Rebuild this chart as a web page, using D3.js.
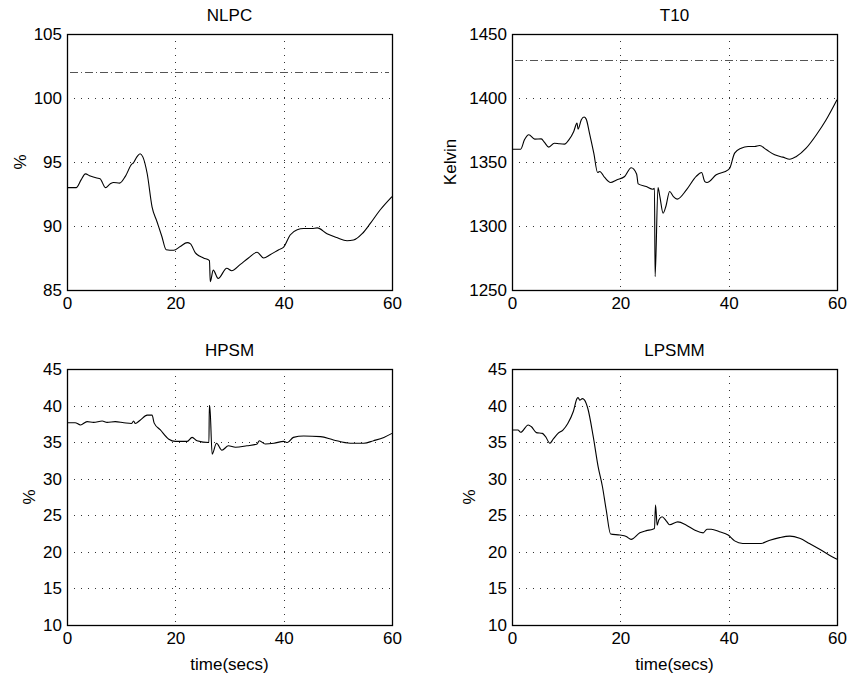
<!DOCTYPE html>
<html>
<head>
<meta charset="utf-8">
<script src="https://cdn.jsdelivr.net/npm/d3@7"></script>
<style>
  html, body { margin: 0; padding: 0; background: #fff; }
  svg text { font-family: "Liberation Sans", Arial, Helvetica, sans-serif; fill: #000; }
</style>
</head>
<body>
<svg id="chart" width="850" height="675"></svg>
<script>
// ---- data ----
const xTicks = [0, 20, 40, 60];

const titles = ["NLPC", "T10", "HPSM", "LPSMM"];
const yLabels = ["%", "Kelvin", "%", "%"];

const nlpcDomain = [85, 105];
const nlpcTicks = [85, 90, 95, 100, 105];
const nlpcLimit = 102;
const nlpc = [[0,93.0],[1.7,93.0],[2.6,93.6],[3.4,94.07],[4.3,93.9],[5.5,93.75],[6.1,93.7],[7.1,93.0],[8,93.3],[8.6,93.4],[9.7,93.35],[10.8,93.9],[12,94.85],[12.2,94.9],[12.9,95.4],[13.5,95.65],[14,95.4],[14.8,94.1],[15.7,91.5],[16.6,90.35],[17.5,89.2],[18.3,88.15],[19.7,88.1],[20.9,88.4],[22.2,88.7],[22.8,88.6],[23.7,87.9],[25.2,87.5],[26.3,87.3],[26.45,85.65],[27.0,86.55],[27.9,85.9],[29.5,86.7],[30.4,86.5],[32,87.0],[33.5,87.5],[35.1,87.95],[36.3,87.5],[37.5,87.75],[39.1,88.15],[40,88.35],[41.2,89.3],[42.5,89.7],[43.7,89.8],[45.2,89.8],[46.2,89.85],[48,89.4],[49.8,89.1],[51.7,88.85],[52.9,88.9],[54.5,89.4],[56,90.2],[57.8,91.25],[60,92.3]];

const t10Domain = [1250, 1450];
const t10Ticks = [1250, 1300, 1350, 1400, 1450];
const t10Limit = 1430;
const t10 = [[0,1360],[1.6,1360],[2.3,1367.3],[3.1,1371.3],[4.2,1367.9],[5.4,1368.1],[6,1365.3],[6.8,1361.6],[7.8,1364.7],[8.8,1364.2],[9.7,1364],[10.5,1367.3],[11.4,1373.9],[12,1380.4],[12.2,1375.7],[12.8,1383],[13.3,1385.1],[13.7,1383.5],[14.3,1372.6],[15.1,1356.9],[15.8,1341.8],[16.2,1342.6],[17.1,1337.9],[18.2,1334],[19.3,1336],[20.8,1338.7],[22,1345.5],[23,1340.7],[23.3,1332.9],[24.8,1330.8],[26,1328.7],[26.3,1329.5],[26.42,1260.5],[26.95,1330],[27.3,1323],[27.9,1310],[28.4,1315.2],[29.1,1327],[29.8,1323],[30.5,1321],[32.2,1328.2],[34,1338.7],[35,1341.8],[35.6,1334.7],[36,1334],[37.7,1340],[39.9,1343.9],[40.2,1345.2],[41.1,1356.9],[42.3,1360.8],[43.6,1362.1],[44.8,1362.1],[45.7,1362.9],[47,1359.5],[48.5,1355.6],[50,1353.8],[51.3,1352.2],[52.5,1354.3],[54.3,1360.8],[56.2,1371.3],[58,1383],[60,1398.6]];

const lowDomain = [10, 45];
const lowTicks = [10, 15, 20, 25, 30, 35, 40, 45];

const hpsm = [[0,37.66],[1.5,37.66],[2.5,37.35],[3.7,37.8],[4.9,37.7],[6.5,37.9],[7.4,37.7],[8.9,37.8],[10.5,37.65],[11.9,37.55],[12.3,37.9],[12.6,37.55],[13.5,38.0],[14.8,38.7],[15.7,38.7],[16.1,37.6],[17.2,36.7],[18.8,35.4],[20,35.1],[22.2,35.1],[23.1,35.65],[24,35.2],[26.2,34.95],[26.28,40.0],[26.36,40.0],[26.8,33.35],[27.6,34.85],[28.6,33.9],[29.8,34.5],[31.1,34.3],[33.2,34.5],[35.1,34.75],[35.5,35.2],[36.6,34.75],[38.2,34.85],[40,35.1],[40.7,34.95],[41.8,35.65],[43.7,35.85],[46.8,35.75],[49.2,35.3],[52.3,34.85],[54.8,34.85],[56.6,35.2],[58.5,35.65],[60,36.2]];

const lpsmm = [[0,36.66],[1.1,36.66],[1.6,36.35],[3,37.35],[3.6,37.1],[4.5,36.3],[5.6,36.2],[6.2,35.75],[7,34.85],[7.6,35.4],[8.5,36.2],[9.4,36.65],[10.3,37.55],[11.3,39.15],[12,40.95],[12.2,41.1],[12.5,40.75],[13,40.95],[13.4,40.75],[14,39.6],[15,35.75],[15.9,31.65],[16.7,28.9],[17.4,25.7],[18.2,22.45],[19.9,22.3],[21.1,22.1],[22,21.7],[23.6,22.6],[24.8,22.9],[26,23.1],[26.3,23.2],[26.5,26.4],[26.8,23.65],[27.1,24.35],[27.7,24.8],[28.5,24.2],[29.1,23.7],[30.6,24.1],[32.2,23.65],[33.7,23],[35.3,22.6],[36,23.1],[36.8,23.1],[38.3,22.75],[39.9,22.3],[41.1,21.5],[42.6,21.15],[44.5,21.15],[46,21.15],[47.6,21.6],[49.4,21.95],[51.3,22.15],[53.1,21.85],[54.9,21.15],[56.8,20.35],[58.6,19.55],[60,19.0]];

// ---- layout ----
const svg = d3.select("#chart");
const W = 325, H = 256;
const panels = [
  { x: 67,  y: 34,  data: nlpc,  domain: nlpcDomain, ticks: nlpcTicks, limit: nlpcLimit, title: titles[0], ylab: yLabels[0], ylabX: 26, xlab: false },
  { x: 512, y: 34,  data: t10,   domain: t10Domain,  ticks: t10Ticks,  limit: t10Limit,  title: titles[1], ylab: yLabels[1], ylabX: 456, xlab: false },
  { x: 67,  y: 369, data: hpsm,  domain: lowDomain,  ticks: lowTicks,  limit: null,      title: titles[2], ylab: yLabels[2], ylabX: 35, xlab: true },
  { x: 512, y: 369, data: lpsmm, domain: lowDomain,  ticks: lowTicks,  limit: null,      title: titles[3], ylab: yLabels[3], ylabX: 475, xlab: true }
];

const FS = 17;
const fmt = d3.format("d");

panels.forEach(p => {
  const g = svg.append("g").attr("transform", `translate(${p.x},${p.y})`);
  const x = d3.scaleLinear().domain([0, 60]).range([0, W]);
  const y = d3.scaleLinear().domain(p.domain).range([H, 0]);

  // grid
  const grid = g.append("g").attr("class", "grid");
  grid.selectAll("line.gx").data(xTicks.slice(1, -1)).join("line")
    .attr("x1", d => Math.round(x(d)) + 0.5).attr("x2", d => Math.round(x(d)) + 0.5)
    .attr("y1", 0).attr("y2", H)
    .attr("stroke", "#333").attr("stroke-width", 1).attr("stroke-dasharray", "1,6");
  grid.selectAll("line.gy").data(p.ticks.slice(1, -1)).join("line")
    .attr("y1", d => Math.round(y(d)) + 0.5).attr("y2", d => Math.round(y(d)) + 0.5)
    .attr("x1", 0).attr("x2", W)
    .attr("stroke", "#333").attr("stroke-width", 1).attr("stroke-dasharray", "1,6");

  // limit line (dash-dot)
  if (p.limit !== null) {
    g.append("line")
      .attr("x1", x(0) + 3).attr("x2", x(60) - 3)
      .attr("y1", Math.round(y(p.limit)) + 0.5).attr("y2", Math.round(y(p.limit)) + 0.5)
      .attr("stroke", "#555").attr("stroke-width", 1)
      .attr("stroke-dasharray", "8,3,1,3");
  }

  // data line
  const line = d3.line().x(d => x(d[0])).y(d => y(d[1])).curve(d3.curveMonotoneX);
  g.append("path").datum(p.data)
    .attr("d", line).attr("fill", "none").attr("stroke", "#000").attr("stroke-width", 1.1);

  // axes
  const ax = g.append("g").attr("transform", `translate(0,${H})`)
    .call(d3.axisBottom(x).tickValues(xTicks).tickFormat(fmt).tickSize(0).tickPadding(7));
  const ay = g.append("g")
    .call(d3.axisLeft(y).tickValues(p.ticks).tickFormat(fmt).tickSize(0).tickPadding(5));
  [ax, ay].forEach(a => {
    a.select(".domain").remove();
    a.selectAll("text").attr("font-size", FS).attr("font-family", "Liberation Sans, Arial, sans-serif");
  });

  // box
  g.append("rect").attr("x", 0.5).attr("y", 0.5).attr("width", W).attr("height", H)
    .attr("fill", "none").attr("stroke", "#000").attr("stroke-width", 1.3);

  // title
  svg.append("text").attr("x", p.x + W / 2).attr("y", p.y - 13)
    .attr("text-anchor", "middle").attr("font-size", FS).text(p.title);

  // y label
  svg.append("text")
    .attr("transform", `translate(${p.ylabX},${p.y + H / 2}) rotate(-90)`)
    .attr("text-anchor", "middle").attr("font-size", FS).text(p.ylab);

  if (p.xlab) {
    svg.append("text").attr("x", p.x + W / 2).attr("y", p.y + H + 45)
      .attr("text-anchor", "middle").attr("font-size", FS).text("time(secs)");
  }
});
</script>
</body>
</html>
